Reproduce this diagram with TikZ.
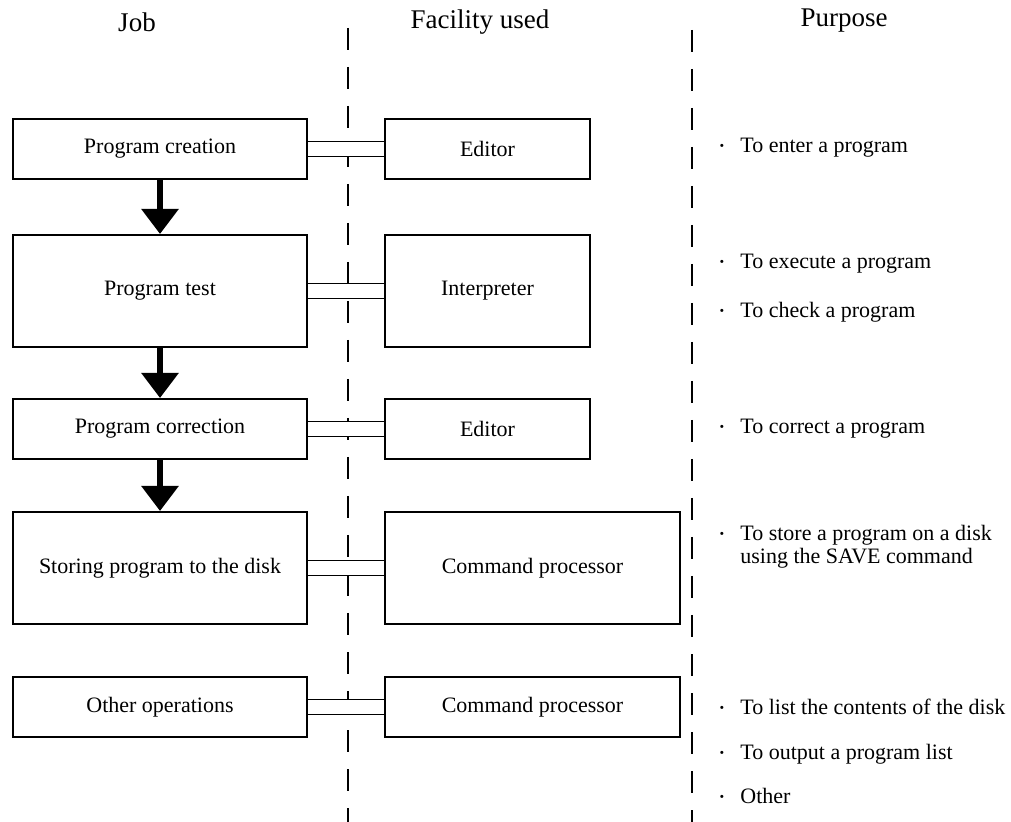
\documentclass[tikz,border=0pt]{standalone}
\usepackage{fontspec}
\setmainfont{Liberation Serif}
\usetikzlibrary{arrows.meta, positioning}

\begin{document}
\begin{tikzpicture}[
        x=0.5pt, y=-0.5pt,
        node distance = 25pt and 38pt,
        jobbox/.style = {draw, rectangle, line width=1pt, minimum width=147pt, minimum height=30pt, align=center, inner sep=0pt, font=\fontsize{11}{13}\selectfont},
        toolbox/.style = {jobbox, minimum width=102.5pt},
        cmdbox/.style = {jobbox, minimum width=147.5pt},
        tall/.style = {minimum height=56pt},
        heading/.style = {font=\fontsize{13.5}{16}\selectfont},
        purpose/.style = {anchor=base west, align=left, inner sep=0pt, font=\fontsize{11}{11.5}\selectfont},
        purpdot/.style = {anchor=base, inner sep=0pt, font=\fontsize{13}{13}\selectfont},
        flow/.style = {-{Triangle[width=18pt, length=12.5pt]}, line width=3pt},
        link/.style = {double, double distance=6.75pt, line width=0.75pt},
        column/.style = {dash pattern=on 11pt off 8.5pt, line width=0.75pt}
    ]
        \useasboundingbox (0,0) rectangle (1011,822);

        % column headings and separators
        \node (hjob) [heading] at (137,22) {Job};
        \node (hfac) [heading] at (480,22) {Facility used};
        \node (hpur) [heading] at (844,21) {Purpose};
        \draw [column] (348,28) -- (348,822);
        \draw [column] (692,30) -- (692,822);

        % jobs
        \node (create) [jobbox] at (160,149) {Program creation};
        \node (test) [jobbox, tall, below=27pt of create] {Program test};
        \node (correct) [jobbox, below=25pt of test] {Program correction};
        \node (store) [jobbox, tall, below=25.5pt of correct] {Storing program to the disk};
        \node (other) [jobbox, below=25.5pt of store] {Other operations};

        % facilities
        \node (editA) [toolbox, right=of create] {Editor};
        \node (interp) [toolbox, tall, right=of test] {Interpreter};
        \node (editB) [toolbox, right=of correct] {Editor};
        \node (cmdA) [cmdbox, tall, right=of store] {Command processor};
        \node (cmdB) [cmdbox, right=of other] {Command processor};

        % purposes (placed on their baselines)
        \node (d1) [purpdot] at (722,155) {·};
        \node (p1) [purpose] at (740,153) {To enter a program};
        \node (d2) [purpdot] at (722,271) {·};
        \node (p2) [purpose] at (740,269) {To execute a program};
        \node (d3) [purpdot] at (722,320) {·};
        \node (p3) [purpose] at (740,318) {To check a program};
        \node (d4) [purpdot] at (722,436) {·};
        \node (p4) [purpose] at (740,434) {To correct a program};
        \node (d5) [purpdot] at (722,543) {·};
        \node (p5) [purpose] at (740,564) {To store a program on a disk\\using the SAVE command};
        \node (d6) [purpdot] at (722,716) {·};
        \node (p6) [purpose] at (740,714) {To list the contents of the disk};
        \node (d7) [purpdot] at (722,761) {·};
        \node (p7) [purpose] at (740,759) {To output a program list};
        \node (d8) [purpdot] at (722,805) {·};
        \node (p8) [purpose] at (740,803) {Other};

        \draw [flow] (create) -- (test);
        \draw [flow] (test) -- (correct);
        \draw [flow] (correct) -- (store);

        \draw [link] (create) -- (editA);
        \draw [link] (test) -- (interp);
        \draw [link] (correct) -- (editB);
        \draw [link] (store) -- (cmdA);
        \draw [link] (other) -- (cmdB);

    \end{tikzpicture}
\end{document}
